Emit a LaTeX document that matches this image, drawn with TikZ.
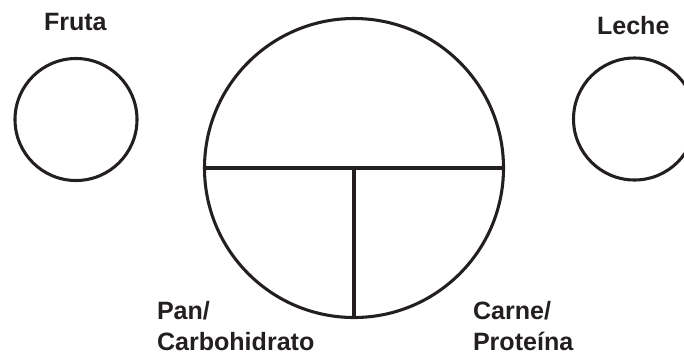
\documentclass[tikz,border=0pt]{standalone}
\usepackage{fontspec}
\setmainfont{Liberation Sans}
\definecolor{ink}{RGB}{35,31,32}
\tikzset{
  ring/.style={draw=ink, line width=2.3pt, circle, inner sep=0pt, outer sep=0pt},
  divider/.style={draw=ink, line width=2.3pt},
  lbl/.style={anchor=base west, inner sep=0pt, outer sep=0pt, text=ink,
    font=\fontsize{18.8pt}{23.5pt}\selectfont\bfseries, align=left}
}
\begin{document}
\begin{tikzpicture}[x=0.75pt, y=-0.75pt]
\useasboundingbox (0,0) rectangle (684,355);
\begin{scope}
\clip (0,0) rectangle (684,355);
\node[ring, minimum size=91.5pt] (fruta) at (76,119.5) {};
\node[ring, minimum size=91.5pt] (leche) at (634.5,119) {};
\node[ring, minimum size=224.25pt] (plate) at (354,168) {};
\end{scope}
\draw[divider] (plate.west) -- (plate.east);
\draw[divider] (plate.center) -- (plate.south);
\node[lbl] (tfruta) at (44,30) {Fruta};
\node[lbl] (tleche) at (597,34) {Leche};
\node[lbl] (tpan) at (157,319.5) {Pan/};
\node[lbl] (tcarb) at (157,350.5) {Carbohidrato};
\node[lbl] (tcarne) at (473,319.5) {Carne/};
\node[lbl] (tprot) at (473,350.5) {Proteína};
\end{tikzpicture}
\end{document}
